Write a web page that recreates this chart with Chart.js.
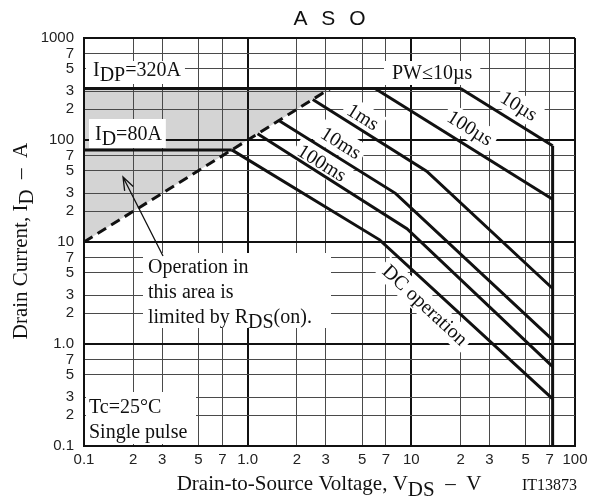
<!DOCTYPE html>
<html>
<head>
<meta charset="utf-8">
<script src="https://cdn.jsdelivr.net/npm/chart.js@4/dist/chart.umd.min.js"></script>
<style>
  html, body { margin: 0; padding: 0; background: #fff; }
  canvas { display: block; }
</style>
</head>
<body>
<canvas id="aso" width="600" height="502"></canvas>
<script>
// grid / tick positions (1, 2, 3, 5, 7 per decade)
const xTicks = [0.1, 0.2, 0.3, 0.5, 0.7, 1, 2, 3, 5, 7, 10, 20, 30, 50, 70, 100];
const yTicks = [0.1, 0.2, 0.3, 0.5, 0.7, 1, 2, 3, 5, 7, 10, 20, 30, 50, 70, 100, 200, 300, 500, 700, 1000];

// limit curves: VDS (V) and ID (A)
const rdsOnV = [0.1, 3.2];
const rdsOnI = [10, 320];
const idpV = [0.1, 20];
const idpI = [320, 320];
const idV = [0.1, 0.8];
const idI = [80, 80];
const pw10usV = [20, 73];
const pw10usI = [320, 88];
const pw100usV = [6, 73];
const pw100usI = [320, 26.3];
const pw1msV = [2.5, 12.4, 73];
const pw1msI = [250, 49.5, 3.5];
const pw10msV = [1.55, 8, 73];
const pw10msI = [155, 30, 1.1];
const pw100msV = [1.15, 9.4, 73];
const pw100msI = [115, 13.5, 0.6];
const dcV = [0.8, 6.4, 73];
const dcI = [80, 10.5, 0.29];
const vdssV = [73, 73];
const vdssI = [88, 0.1];
// area limited by RDS(on)
const shadeV = [0.1, 3.2, 0.1, 0.1];
const shadeI = [10, 320, 320, 10];

const serif = '"Liberation Serif", "Times New Roman", serif';
const sans = '"Liberation Sans", Arial, sans-serif';

function pts(xs, ys) {
  return xs.map((x, i) => ({ x: x, y: ys[i] }));
}

function curve(xs, ys, extra) {
  return Object.assign({
    data: pts(xs, ys),
    showLine: true,
    borderColor: '#111',
    borderWidth: 3,
    pointRadius: 0,
    fill: false
  }, extra || {});
}

function isDecade(v) {
  const l = Math.log10(v);
  return Math.abs(l - Math.round(l)) < 1e-6;
}

function tickLabel(v) {
  if (isDecade(v)) return v === 1 ? '1.0' : String(v);
  return String(Math.round(v / Math.pow(10, Math.floor(Math.log10(v) + 1e-9))));
}

const gridColor = ctx => (ctx.tick && isDecade(ctx.tick.value)) ? '#111' : '#4a4a4a';
const gridWidth = ctx => (ctx.tick && isDecade(ctx.tick.value)) ? 2 : 1;

// text with subscript parts, e.g. ['I', {sub: 'D'}, '=80A']
function textWidth(c, parts, size) {
  c.font = size + 'px ' + serif;
  return parts.reduce((w, p) => w + c.measureText(typeof p === 'string' ? p : p.sub).width, 0);
}
function drawRuns(c, parts, x, y, size) {
  c.font = size + 'px ' + serif;
  let cx = x;
  parts.forEach(p => {
    const t = typeof p === 'string' ? p : p.sub;
    c.fillText(t, cx, y + (typeof p === 'string' ? 0 : size * 0.27));
    cx += c.measureText(t).width;
  });
}

function boxedText(c, parts, x, y, size, padL, padR, top, bottom) {
  const w = textWidth(c, parts, size);
  c.fillStyle = '#fff';
  c.fillRect(x - padL, top, w + padL + padR, bottom - top);
  c.fillStyle = '#111';
  drawRuns(c, parts, x, y, size);
}

function rotLabel(c, text, x, y, deg, size) {
  c.save();
  c.translate(x, y);
  c.rotate(deg * Math.PI / 180);
  c.font = size + 'px ' + serif;
  const w = c.measureText(text).width;
  c.fillStyle = '#fff';
  c.fillRect(-w / 2 - 4, -size * 0.6, w + 8, size * 1.2);
  c.fillStyle = '#111';
  c.textAlign = 'center';
  c.textBaseline = 'middle';
  c.fillText(text, 0, 1);
  c.restore();
}

const annotations = {
  id: 'annotations',
  beforeDatasetsDraw(chart) {
    const c = chart.ctx;
    c.save();
    c.textBaseline = 'alphabetic';
    boxedText(c, ['I', { sub: 'DP' }, '=320A'], 93, 76, 20, 7, 4, 61, 84);
    boxedText(c, ['I', { sub: 'D' }, '=80A'], 95, 140, 20, 6, 4, 119, 148);
    boxedText(c, ['PW≤10µs'], 392, 79, 20, 8, 8, 61, 85);

    // RDS(on) note
    c.fillStyle = '#fff';
    c.fillRect(143, 253, 188, 75);
    c.fillStyle = '#111';
    drawRuns(c, ['Operation in'], 148, 273, 20);
    drawRuns(c, ['this area is'], 148, 298, 20);
    drawRuns(c, ['limited by R', { sub: 'DS' }, '(on).'], 148, 323, 20);

    // conditions
    c.fillStyle = '#fff';
    c.fillRect(86, 392, 110, 52);
    c.fillStyle = '#111';
    drawRuns(c, ['Tc=25°C'], 89, 413, 20);
    drawRuns(c, ['Single pulse'], 89, 438, 20);

    rotLabel(c, '10µs', 519, 106, 32, 20);
    rotLabel(c, '100µs', 470, 128, 32, 20);
    rotLabel(c, '1ms', 363, 117, 32, 20);
    rotLabel(c, '10ms', 341, 143, 32, 20);
    rotLabel(c, '100ms', 322, 163, 32, 20);
    rotLabel(c, 'DC operation', 425, 305, 43, 20);
    c.restore();
  },
  afterDatasetsDraw(chart) {
    const c = chart.ctx;
    // arrow pointing into the shaded area
    const x0 = 163, y0 = 256, x1 = 123, y1 = 177;
    const a = Math.atan2(y1 - y0, x1 - x0);
    c.save();
    c.strokeStyle = '#111';
    c.lineWidth = 1.3;
    c.beginPath();
    c.moveTo(x0, y0);
    c.lineTo(x1, y1);
    c.moveTo(x1 - 14 * Math.cos(a - 0.35), y1 - 14 * Math.sin(a - 0.35));
    c.lineTo(x1, y1);
    c.lineTo(x1 - 14 * Math.cos(a + 0.35), y1 - 14 * Math.sin(a + 0.35));
    c.stroke();
    c.restore();
  },
  afterDraw(chart) {
    const c = chart.ctx;
    const area = chart.chartArea;
    c.save();
    c.fillStyle = '#111';

    // title
    c.font = '21px ' + sans;
    c.letterSpacing = '4px';
    c.textAlign = 'center';
    c.textBaseline = 'middle';
    c.fillText('A S O', (area.left + area.right) / 2 + 2, 19);
    c.letterSpacing = '0px';
    c.textAlign = 'left';
    c.textBaseline = 'alphabetic';

    // x title
    const xParts = ['Drain-to-Source Voltage, V', { sub: 'DS' }, '  –  V'];
    const xw = textWidth(c, xParts, 21);
    drawRuns(c, xParts, 329 - xw / 2, 490, 21);
    c.font = '16px ' + serif;
    c.fillText('IT13873', 522, 490);

    // y title
    const yParts = ['Drain Current, I', { sub: 'D' }, '  –  A'];
    const yw = textWidth(c, yParts, 21);
    c.translate(27, 241);
    c.rotate(-Math.PI / 2);
    drawRuns(c, yParts, -yw / 2, 0, 21);
    c.restore();
  }
};

new Chart(document.getElementById('aso'), {
  type: 'scatter',
  data: {
    datasets: [
      curve(shadeV, shadeI, { borderWidth: 0, borderColor: 'rgba(0,0,0,0)', backgroundColor: '#d4d4d4', fill: 'shape' }),
      curve(rdsOnV, rdsOnI, { borderDash: [10, 6] }),
      curve(idpV, idpI),
      curve(idV, idI),
      curve(pw10usV, pw10usI),
      curve(pw100usV, pw100usI),
      curve(pw1msV, pw1msI),
      curve(pw10msV, pw10msI),
      curve(pw100msV, pw100msI),
      curve(dcV, dcI),
      curve(vdssV, vdssI)
    ]
  },
  options: {
    responsive: false,
    animation: false,
    layout: { padding: { left: 0, right: 25, top: 38, bottom: 0 } },
    plugins: {
      legend: { display: false },
      tooltip: { enabled: false },
      filler: { drawTime: 'beforeDraw' }
    },
    scales: {
      x: {
        type: 'logarithmic',
        min: 0.1,
        max: 100,
        afterBuildTicks: s => { s.ticks = xTicks.map(v => ({ value: v })); },
        afterFit: s => { s.height = 56; },
        grid: { color: gridColor, lineWidth: gridWidth, drawTicks: false },
        border: { display: true, color: '#111', width: 2 },
        ticks: {
          callback: tickLabel,
          autoSkip: false,
          maxRotation: 0,
          padding: 5,
          color: '#222',
          font: { family: sans, size: 15 }
        }
      },
      y: {
        type: 'logarithmic',
        min: 0.1,
        max: 1000,
        afterBuildTicks: s => { s.ticks = yTicks.map(v => ({ value: v })); },
        afterFit: s => { s.width = 84; },
        grid: { color: gridColor, lineWidth: gridWidth, drawTicks: false },
        border: { display: true, color: '#111', width: 2 },
        ticks: {
          callback: tickLabel,
          autoSkip: false,
          padding: 10,
          color: '#222',
          font: { family: sans, size: 15 }
        }
      }
    }
  },
  plugins: [annotations]
});
</script>
</body>
</html>
